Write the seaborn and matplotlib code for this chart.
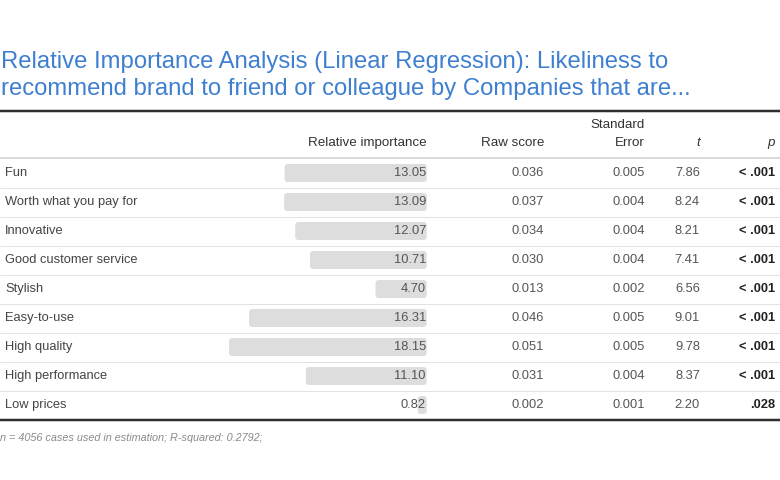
import matplotlib
matplotlib.use("Agg")
import matplotlib.pyplot as plt
from matplotlib.lines import Line2D
from matplotlib.patches import FancyBboxPatch
import seaborn as sns
import pandas as pd

# ---- data ----
labels = ["Fun", "Worth what you pay for", "Innovative", "Good customer service",
          "Stylish", "Easy-to-use", "High quality", "High performance", "Low prices"]
rel_importance = [13.05, 13.09, 12.07, 10.71, 4.70, 16.31, 18.15, 11.10, 0.82]
raw_score = ["0.036", "0.037", "0.034", "0.030", "0.013", "0.046", "0.051", "0.031", "0.002"]
std_error = ["0.005", "0.004", "0.004", "0.004", "0.002", "0.005", "0.005", "0.004", "0.001"]
t_values = ["7.86", "8.24", "8.21", "7.41", "6.56", "9.01", "9.78", "8.37", "2.20"]
p_values = ["< .001", "< .001", "< .001", "< .001", "< .001", "< .001", "< .001", "< .001", ".028"]
title_lines = ["Relative Importance Analysis (Linear Regression): Likeliness to",
               "recommend brand to friend or colleague by Companies that are..."]
footer = "n = 4056 cases used in estimation; R-squared: 0.2792;"

df = pd.DataFrame({"label": labels, "importance": rel_importance})

W, H = 780, 480
sns.set_theme(style="white")
plt.rcParams["font.family"] = ["Liberation Sans", "DejaVu Sans"]

fig = plt.figure(figsize=(W / 100, H / 100), dpi=100)


def fx(x):
    return x / W


def fy(y):
    return 1 - y / H


def ptext(x, y, s, **kw):
    fig.text(fx(x), fy(y), s, **kw)


def hline(y, color, lw_px):
    fig.add_artist(Line2D([0, 1], [fy(y), fy(y)], transform=fig.transFigure,
                          color=color, lw=lw_px * 0.72, solid_capstyle="butt"))


# ---- geometry (pixels) ----
row0 = 173.0
row_h = 29.0
n = len(labels)
bar_right = 426.7
px_per_unit = 10.89
ax_left = 150.0
top_px = row0 - row_h / 2
bot_px = row0 + row_h * (n - 1) + row_h / 2

ax = fig.add_axes([fx(ax_left), fy(bot_px), (bar_right - ax_left) / W, (bot_px - top_px) / H])
sns.barplot(data=df, x="importance", y="label", orient="h", color="#dddddd",
            saturation=1, width=18 / 29, ax=ax)
ax.set_xlim((bar_right - ax_left) / px_per_unit, 0)
ax.set_ylim(n - 0.5, -0.5)
ax.axis("off")

# round the bar corners
aspect = (3 / row_h) / (3 / px_per_unit)
for p in list(ax.patches):
    x0, y0 = p.get_x(), p.get_y()
    w, h = p.get_width(), p.get_height()
    fb = FancyBboxPatch((x0, y0), w, h,
                        boxstyle="round,pad=0,rounding_size=%f" % (3 / px_per_unit),
                        mutation_aspect=aspect, facecolor="#dddddd", edgecolor="none")
    p.remove()
    ax.add_patch(fb)

# ---- title (two lines, baselines at ~68 and ~95 px) ----
for k, line in enumerate(title_lines):
    ptext(1, 68 + 27 * k, line, fontsize=17.2, color="#3e7fd0", va="baseline", ha="left")

# ---- rules ----
hline(110.5, "#2f2f2f", 2.5)
hline(157.5, "#dadada", 2)
for i in range(n - 1):
    hline(row0 + row_h * i + 14.5, "#e2e2e2", 1)
hline(420, "#2f2f2f", 2.5)

# ---- header ----
hdr_y = 143
hc = "#333333"
hs = 9.6
ptext(427, hdr_y, "Relative importance", fontsize=hs, color=hc, ha="right", va="center")
ptext(544, hdr_y, "Raw score", fontsize=hs, color=hc, ha="right", va="center")
ptext(645, 125, "Standard", fontsize=hs, color=hc, ha="right", va="center")
ptext(645, hdr_y, "Error", fontsize=hs, color=hc, ha="right", va="center")
ptext(700, hdr_y, "t", fontsize=hs, color=hc, ha="right", va="center", style="italic")
ptext(775, hdr_y, "p", fontsize=hs, color=hc, ha="right", va="center", style="italic")

# ---- rows ----
bs = 9.3
for i in range(n):
    y = row0 + row_h * i
    ptext(5, y, labels[i], fontsize=bs, color="#444444", ha="left", va="center")
    ptext(426, y, "%.2f" % rel_importance[i], fontsize=bs, color="#555555", ha="right", va="center")
    ptext(544, y, raw_score[i], fontsize=bs, color="#555555", ha="right", va="center")
    ptext(645, y, std_error[i], fontsize=bs, color="#555555", ha="right", va="center")
    ptext(700, y, t_values[i], fontsize=bs, color="#555555", ha="right", va="center")
    ptext(775, y, p_values[i], fontsize=bs, color="#222222", ha="right", va="center",
          weight="bold")

# ---- footer ----
ptext(0, 438, footer, fontsize=7.85, color="#8a8a8a", ha="left", va="center", style="italic")

fig.savefig("out.png", dpi=100, facecolor="white")
